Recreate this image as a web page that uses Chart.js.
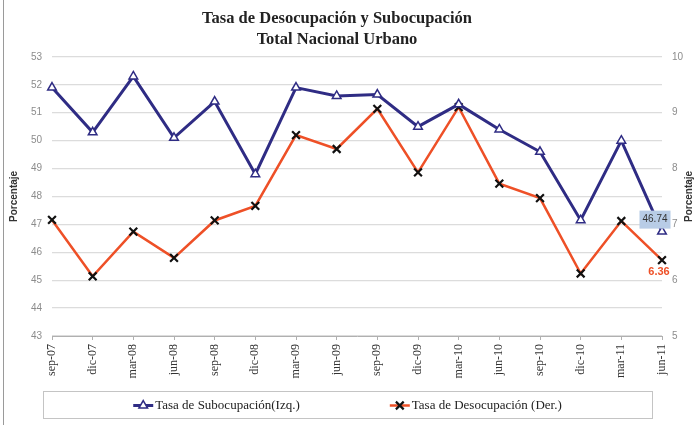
<!DOCTYPE html>
<html>
  <head>
    <title>Tasa de Desocupación y Subocupación</title>
    <script src="https://cdn.jsdelivr.net/npm/chart.js@4.4.1/dist/chart.umd.min.js"></script>
    <style>
      html, body { margin: 0; padding: 0; background: #fff; }
      #container { position: relative; width: 699px; height: 425px; }
      #container::before { content: ''; position: absolute; left: 3px; top: 0; bottom: 0; border-left: 1px solid #9a9a9a; }
    </style>
  </head>

  <body>
    <div id="container">
      <canvas id="canvas" width="699" height="425"></canvas>
    </div>
    <script>
      const periods = ['sep-07', 'dic-07', 'mar-08', 'jun-08', 'sep-08', 'dic-08', 'mar-09', 'jun-09',
        'sep-09', 'dic-09', 'mar-10', 'jun-10', 'sep-10', 'dic-10', 'mar-11', 'jun-11'];
      // Tasa de Subocupación, eje izquierdo
      const subocupacion = [51.9, 50.3, 52.3, 50.1, 51.4, 48.8, 51.9, 51.6,
        51.65, 50.5, 51.3, 50.4, 49.6, 47.15, 50.0, 46.74];
      // Tasa de Desocupación, eje derecho
      const desocupacion = [7.08, 6.07, 6.87, 6.4, 7.07, 7.33, 8.6, 8.35,
        9.07, 7.93, 9.1, 7.73, 7.47, 6.12, 7.06, 6.36];
      const leftRange = [43, 53];
      const rightRange = [5, 10];

      const serif = '"Liberation Serif", "Times New Roman", serif';
      const sans = '"Liberation Sans", Arial, sans-serif';
      const blue = '#2f2c84';
      const orange = '#ee5027';

      // legend with a frame, line + marker icons like the original
      const boxLegend = {
        id: 'boxLegend',
        afterDraw(chart) {
          const { ctx, chartArea } = chart;
          const left = chartArea.left - 9;
          const right = chartArea.right - 10;
          const top = chartArea.bottom + 55;
          const h = 27;
          ctx.save();
          ctx.fillStyle = '#fff';
          ctx.strokeStyle = '#c4c4c4';
          ctx.lineWidth = 1;
          ctx.fillRect(left, top, right - left, h);
          ctx.strokeRect(left + 0.5, top + 0.5, right - left, h);

          ctx.font = '13px ' + serif;
          const items = chart.data.datasets.map((ds) => ({ ds, w: ctx.measureText(ds.label).width }));
          const iconW = 20, gap = 2, between = 90;
          const total = items.reduce((s, it) => s + iconW + gap + it.w, 0) + between * (items.length - 1);
          let x = (left + right) / 2 - total / 2;
          const y = top + h / 2 + 1;
          items.forEach(({ ds, w }) => {
            ctx.strokeStyle = ds.borderColor;
            ctx.lineWidth = ds.borderWidth;
            ctx.beginPath();
            ctx.moveTo(x, y);
            ctx.lineTo(x + iconW, y);
            ctx.stroke();
            const cx = x + iconW / 2;
            const r = ds.pointRadius;
            ctx.strokeStyle = ds.pointBorderColor;
            ctx.lineWidth = ds.pointBorderWidth;
            ctx.beginPath();
            if (ds.pointStyle === 'triangle') {
              ctx.fillStyle = ds.pointBackgroundColor;
              ctx.moveTo(cx, y - r);
              ctx.lineTo(cx + r * 0.866, y + r / 2);
              ctx.lineTo(cx - r * 0.866, y + r / 2);
              ctx.closePath();
              ctx.fill();
            } else {
              const d = r * 0.707;
              ctx.moveTo(cx - d, y - d);
              ctx.lineTo(cx + d, y + d);
              ctx.moveTo(cx + d, y - d);
              ctx.lineTo(cx - d, y + d);
            }
            ctx.stroke();
            ctx.fillStyle = '#222';
            ctx.textBaseline = 'middle';
            ctx.textAlign = 'left';
            ctx.fillText(ds.label, x + iconW + gap, y);
            x += iconW + gap + w + between;
          });
          ctx.restore();
        },
      };

      // value labels on the last point + right axis title
      const lastLabels = {
        id: 'lastLabels',
        afterDatasetsDraw(chart) {
          const { ctx, chartArea } = chart;
          const last = periods.length - 1;
          const pSub = chart.getDatasetMeta(0).data[last];
          const pDes = chart.getDatasetMeta(1).data[last];
          ctx.save();
          ctx.textAlign = 'center';
          ctx.textBaseline = 'middle';

          const subText = subocupacion[last].toFixed(2);
          ctx.font = '10px ' + sans;
          const bw = ctx.measureText(subText).width + 6;
          ctx.fillStyle = '#b8cce6';
          ctx.fillRect(pSub.x - 7 - bw / 2, pSub.y - 12 - 9, bw, 18);
          ctx.fillStyle = '#333';
          ctx.fillText(subText, pSub.x - 7, pSub.y - 12);

          ctx.font = 'bold 11px ' + sans;
          ctx.fillStyle = orange;
          ctx.fillText(desocupacion[last].toFixed(2), pDes.x - 3, pDes.y + 12);

          ctx.font = 'bold 10px ' + sans;
          ctx.fillStyle = '#333';
          ctx.translate(689, (chartArea.top + chartArea.bottom) / 2);
          ctx.rotate(-Math.PI / 2);
          ctx.fillText('Porcentaje', 0, 0);
          ctx.restore();
        },
      };

      window.onload = () => {
        const ctx = document.getElementById('canvas').getContext('2d');
        new Chart(ctx, {
          type: 'line',
          data: {
            labels: periods,
            datasets: [
              {
                label: 'Tasa de Subocupación(Izq.)',
                data: subocupacion,
                yAxisID: 'y',
                borderColor: blue,
                borderWidth: 3,
                pointStyle: 'triangle',
                pointRadius: 5,
                pointBorderWidth: 1.5,
                pointBorderColor: blue,
                pointBackgroundColor: '#fff',
                tension: 0,
              },
              {
                label: 'Tasa de Desocupación (Der.)',
                data: desocupacion,
                yAxisID: 'y1',
                borderColor: orange,
                borderWidth: 2.5,
                pointStyle: 'crossRot',
                pointRadius: 5.5,
                pointBorderWidth: 2.2,
                pointBorderColor: '#111',
                pointBackgroundColor: '#111',
                tension: 0,
              },
            ],
          },
          options: {
            responsive: false,
            animation: false,
            // negative left padding shifts the title centre left, like the original
            layout: { padding: { left: -25, right: 0, top: 0, bottom: 37 } },
            plugins: {
              legend: { display: false },
              tooltip: { enabled: false },
              title: {
                display: true,
                text: ['Tasa de Desocupación y Subocupación', 'Total Nacional Urbano'],
                color: '#222',
                font: { family: serif, size: 16.5, weight: 'bold', lineHeight: 1.27 },
                padding: { top: 8, bottom: 7 },
              },
            },
            scales: {
              x: {
                offset: false,
                grid: { drawOnChartArea: false, drawTicks: true, tickLength: 4, color: '#b0b0b0' },
                border: { color: '#b0b0b0' },
                ticks: {
                  autoSkip: false,
                  minRotation: 90,
                  maxRotation: 90,
                  padding: 4,
                  color: '#333',
                  font: { family: serif, size: 12 },
                },
                afterFit(scale) { scale.height = 52; },
              },
              y: {
                position: 'left',
                min: leftRange[0],
                max: leftRange[1],
                ticks: { stepSize: 1, padding: 10, color: '#8c8c8c', font: { family: sans, size: 10 } },
                grid: { color: '#dcdcdc', lineWidth: 1.2, drawTicks: false },
                border: { display: false },
                title: {
                  display: true,
                  text: 'Porcentaje',
                  color: '#333',
                  font: { family: sans, size: 10, weight: 'bold' },
                  padding: { top: 33, bottom: 0 },
                },
                afterFit(scale) { scale.width = 77; },
              },
              y1: {
                position: 'right',
                min: rightRange[0],
                max: rightRange[1],
                ticks: { stepSize: 1, padding: 10, color: '#8c8c8c', font: { family: sans, size: 10 } },
                grid: { drawOnChartArea: false, drawTicks: false },
                border: { display: false },
                afterFit(scale) { scale.width = 37; },
              },
            },
          },
          plugins: [boxLegend, lastLabels],
        });
      };
    </script>
  </body>
</html>
